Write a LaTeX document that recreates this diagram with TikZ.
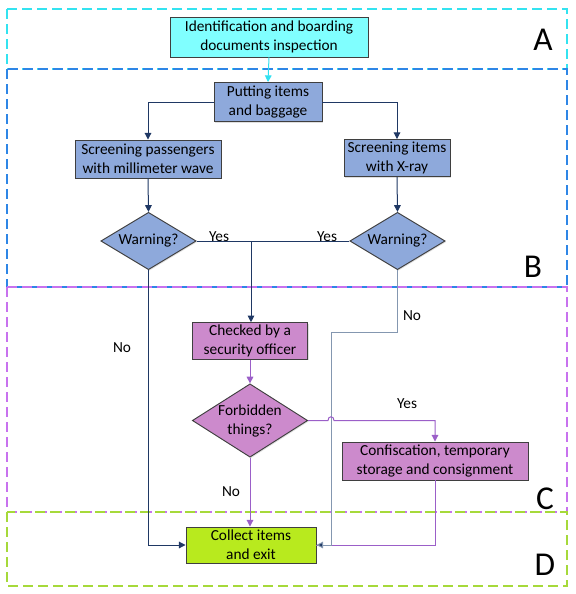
\documentclass[tikz,border=0pt]{standalone}
\usepackage{fontspec}
\setmainfont{Carlito}
\usetikzlibrary{shapes.geometric,arrows.meta,shadows,calc}
\definecolor{cyanfill}{HTML}{80FFFF}
\definecolor{bluefill}{HTML}{8EA9DB}
\definecolor{pinkfill}{HTML}{CC8ACC}
\definecolor{greenfill}{HTML}{B8EA1E}
\definecolor{navyline}{HTML}{1F3864}
\definecolor{grayline}{HTML}{8497B0}
\definecolor{purpline}{HTML}{9B5FC8}
\definecolor{cyanline}{HTML}{2FE0F0}
\definecolor{zoneA}{HTML}{33E3F0}
\definecolor{zoneB}{HTML}{2E86E6}
\definecolor{zoneC}{HTML}{C872EE}
\definecolor{zoneD}{HTML}{A6D93A}
\definecolor{borderc}{HTML}{3F3F3F}
\tikzset{
  box/.style={draw=borderc, line width=0.7pt, rectangle, inner sep=0pt, align=center,
    font=\fontsize{11.5}{14.25}\selectfont,
    drop shadow={shadow xshift=0.8pt, shadow yshift=-0.8pt, opacity=0.25}},
  dia/.style={box, diamond, aspect=1.6},
  zone/.style={line width=1pt, dash pattern=on 7.5pt off 3.75pt},
  zlabel/.style={font=\fontsize{25}{30}\selectfont, inner sep=0pt},
  lbl/.style={font=\fontsize{11.5}{14.25}\selectfont, inner sep=0pt},
  conn/.style={line width=0.75pt},
  arr/.style={-{Triangle[length=5pt,width=5pt]}},
}
\begin{document}
\begin{tikzpicture}[x=0.75pt,y=-0.75pt]
\useasboundingbox (0,0) rectangle (576,594);
% zones
\draw[zone, zoneA] (7,9) rectangle (567,69);
\draw[zone, zoneB] (7,69) rectangle (567,287);
\draw[zone, zoneC] (7,287) rectangle (567,512);
\draw[zone, zoneD] (7,512) rectangle (567,586);
\node[zlabel] (la) at (543,40) {A};
\node[zlabel] (lb) at (533,267) {B};
\node[zlabel] (lc) at (545,499) {C};
\node[zlabel] (ld) at (545,565) {D};
% nodes
\node[box, fill=cyanfill, minimum width=148.5pt, minimum height=30pt] (id) at (269,37) {Identification and boarding\\documents inspection};
\node[box, fill=bluefill, minimum width=81pt, minimum height=29.25pt] (put) at (268,102) {Putting items\\and baggage};
\node[box, fill=bluefill, minimum width=109.5pt, minimum height=28.5pt] (sp) at (148,159) {Screening passengers\\with millimeter wave};
\node[box, fill=bluefill, minimum width=79.5pt, minimum height=27.75pt] (sx) at (397,158) {Screening items\\with X-ray};
\node[dia, fill=bluefill, minimum width=71.5pt, minimum height=43pt] (wl) at (148.5,241) {Warning?};
\node[dia, fill=bluefill, minimum width=71.5pt, minimum height=43pt] (wr) at (397.5,241) {Warning?};
\node[box, fill=pinkfill, minimum width=86.25pt, minimum height=27.5pt] (chk) at (250,341) {Checked by a\\security officer};
\node[dia, fill=pinkfill, minimum width=85.5pt, minimum height=55pt] (fb) at (250,420.5) {Forbidden\\things?};
\node[box, fill=pinkfill, minimum width=139.5pt, minimum height=28.5pt] (conf) at (435,461) {Confiscation, temporary\\storage and consignment};
\node[box, fill=greenfill, minimum width=97.5pt, minimum height=27pt] (col) at (251,545) {Collect items\\and exit};
% helper coordinates
\coordinate (j) at (251,241);
\coordinate (k) at (331,332);
% connectors
\draw[conn, cyanline, arr] (id.south) -- (put.north);
\draw[conn, navyline, arr] (put.west) -| (sp.north);
\draw[conn, navyline, arr] (put.east) -| (sx.north);
\draw[conn, navyline, arr] (sp.south) -- (wl.north);
\draw[conn, navyline, arr] (sx.south) -- (wr.north);
\draw[conn, navyline] (wl.east) -- (j);
\draw[conn, navyline] (wr.west) -- (j);
\draw[conn, navyline, arr] (j) -- (j |- chk.north);
\draw[conn, navyline, arr] (wl.south) |- (col.west);
\draw[conn, purpline, arr] (chk.south) -- (chk.south |- fb.north);
\draw[conn, purpline, arr] (fb.south) -- (fb.south |- col.north);
\draw[conn, purpline] (conf.south) |- (col.east);
\draw[conn, grayline, -{Triangle[length=5pt,width=5pt,fill=navyline]}] (wr.south) |- (k) |- (col.east);
\draw[conn, purpline, arr] (fb.east) -- ($(fb.east -| k)+(-3,0)$)
  .. controls ($(fb.east -| k)+(-3,-5)$) and ($(fb.east -| k)+(3,-5)$) .. ($(fb.east -| k)+(3,0)$)
  -| (conf.north);
% labels
\node[lbl] (y1) at (219,237) {Yes};
\node[lbl] (y2) at (327,237) {Yes};
\node[lbl] (n1) at (122,348) {No};
\node[lbl] (n2) at (412,316) {No};
\node[lbl] (y3) at (407,404) {Yes};
\node[lbl] (n3) at (231,492) {No};
\end{tikzpicture}
\end{document}
